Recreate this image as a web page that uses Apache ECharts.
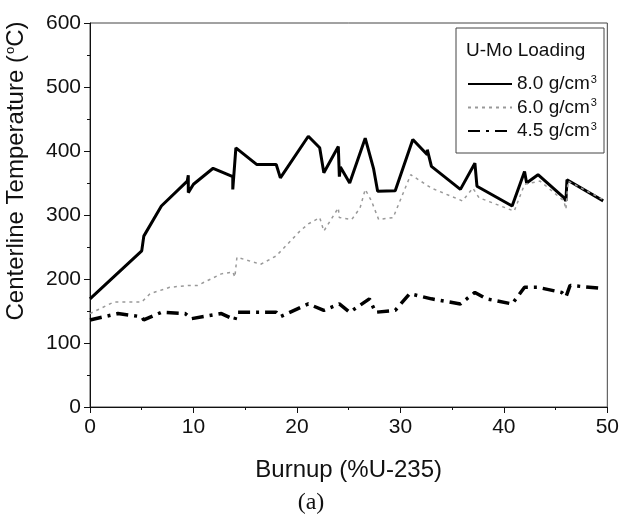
<!DOCTYPE html>
<html>
<head>
<meta charset="utf-8">
<script src="https://cdn.jsdelivr.net/npm/echarts@6/dist/echarts.min.js"></script>
<style>html,body{margin:0;padding:0;background:#fff}#c{width:622px;height:521px}</style>
</head>
<body>
<div id="c"></div>
<script>
var xTicks = [0, 10, 20, 30, 40, 50];
var yTicks = [0, 100, 200, 300, 400, 500, 600];
var legendTitle = 'U-Mo Loading';
var seriesNames = ['8.0 g/cm3', '6.0 g/cm3', '4.5 g/cm3'];

var s80x = [0, 5.0, 5.2, 6.9, 9.4, 9.5, 9.5, 10, 11.9, 13.8, 13.8, 14.1, 16.1, 18, 18.4, 21.1, 22.2, 22.6, 24, 24.1, 24.2, 25.1, 26.6, 27.4, 27.8, 29.5, 31.2, 32.6, 32.6, 33, 35.8, 37.2, 37.4, 40.8, 42, 42.2, 43.3, 45.8, 46, 46.1, 49.6];
var s80y = [169, 244, 267, 314, 353, 362, 335, 348, 373, 360, 340, 405, 379, 379, 358, 423, 405, 366, 407, 360, 375, 350, 420, 373, 337, 338, 418, 394, 402, 376, 340, 381, 345, 314, 368, 350, 363, 327, 322, 355, 322];

var s60x = [0, 2.3, 5.0, 5.8, 7.7, 9.6, 10.4, 12.7, 13.8, 14.0, 14.2, 16.5, 18, 20.3, 21.1, 22.2, 22.6, 24, 24.1, 25.3, 26.1, 26.6, 27.2, 27.9, 29.3, 31.0, 33, 36, 37, 37.6, 41, 42, 43.5, 45.8, 46, 46.2, 49.6];
var s60y = [146, 164, 164, 177, 187, 190, 190, 208, 211, 203, 234, 223, 236, 275, 286, 296, 275, 311, 296, 293, 311, 340, 322, 293, 296, 363, 342, 322, 342, 327, 306, 348, 353, 322, 309, 353, 324];

var s45x = [0, 2.7, 5.0, 5.2, 6.9, 9.2, 9.8, 12.7, 14.0, 14.2, 18, 18.4, 21.1, 22.6, 24.1, 25.1, 27.0, 27.6, 29.5, 30.9, 33, 35.8, 37.2, 38.3, 40.8, 42, 43.3, 45.6, 46, 46.4, 49.6];
var s45y = [136, 146, 141, 136, 148, 146, 138, 146, 136, 148, 148, 141, 161, 151, 161, 148, 169, 148, 151, 177, 169, 161, 179, 169, 161, 187, 187, 179, 172, 190, 185];

function pairs(xs, ys) { var out = []; for (var i = 0; i < xs.length; i++) out.push([xs[i], ys[i]]); return out; }

var chart = echarts.init(document.getElementById('c'));
var font = 'Liberation Sans, Arial, sans-serif';
var legendRich = { a: { fontSize: 19, fontFamily: font, color: '#111' }, s: { fontSize: 11, fontFamily: font, color: '#111', verticalAlign: 'top', padding: [0, 0, 9, 1] } };

chart.setOption({
  animation: false,
  backgroundColor: '#fff',
  grid: { left: 90, right: 14, top: 23, bottom: 114, show: true, borderColor: '#444', borderWidth: 1, backgroundColor: 'transparent' },
  xAxis: {
    type: 'value', min: xTicks[0], max: xTicks[xTicks.length - 1], interval: 10,
    name: 'Burnup (%U-235)', nameLocation: 'middle', nameGap: 51,
    nameTextStyle: { fontSize: 24, fontFamily: font, color: '#111' },
    axisLine: { lineStyle: { color: '#111', width: 1 } },
    axisTick: { inside: false, length: 6, lineStyle: { color: '#111' } },
    minorTick: { show: true, splitNumber: 2, length: 3, lineStyle: { color: '#111' } },
    axisLabel: { fontSize: 21, fontFamily: font, color: '#111', margin: 10 },
    splitLine: { show: false }
  },
  yAxis: {
    type: 'value', min: yTicks[0], max: yTicks[yTicks.length - 1], interval: 100,
    axisLine: { lineStyle: { color: '#111', width: 1 } },
    axisTick: { inside: false, length: 6, lineStyle: { color: '#111' } },
    minorTick: { show: true, splitNumber: 2, length: 3, lineStyle: { color: '#111' } },
    axisLabel: { fontSize: 21, fontFamily: font, color: '#111', margin: 9 },
    splitLine: { show: false }
  },
  legend: {
    orient: 'vertical', left: 462, top: 69, itemGap: 4, itemWidth: 44, itemHeight: 20,
    data: seriesNames,
    itemStyle: { opacity: 0, borderWidth: 0 },
    formatter: function (n) { return '{a|' + n.replace('cm3', 'cm') + '}{s|3}'; },
    textStyle: { rich: legendRich }
  },
  graphic: [
    { type: 'rect', shape: { x: 456, y: 28, width: 148, height: 125 }, style: { fill: 'none', stroke: '#444', lineWidth: 1 } },
    { type: 'text', left: 466, top: 41, style: { text: legendTitle, font: '19px ' + font, fill: '#111' } },
    { type: 'text', x: 16, y: 171, rotation: Math.PI / 2,
      style: { text: '{a|Centerline Temperature (}{s|o}{a|C)}', align: 'center', verticalAlign: 'middle',
        rich: { a: { fontSize: 24, fontFamily: font, fill: '#111', color: '#111' }, s: { fontSize: 13, fontFamily: font, fill: '#111', color: '#111', verticalAlign: 'top', padding: [0, 0, 12, 1] } } } },
    { type: 'text', left: 'center', top: 491, style: { text: '(a)', font: '24px "Liberation Serif", "Times New Roman", serif', fill: '#111' } }
  ],
  series: [
    { name: seriesNames[0], type: 'line', data: pairs(s80x, s80y), symbol: 'none', lineStyle: { color: '#000', width: 3 }, itemStyle: { color: '#000' } },
    { name: seriesNames[1], type: 'line', data: pairs(s60x, s60y), symbol: 'none', lineStyle: { color: '#999', width: 1.5, type: [3, 4] }, itemStyle: { color: '#999' } },
    { name: seriesNames[2], type: 'line', data: pairs(s45x, s45y), symbol: 'none', lineStyle: { color: '#000', width: 3.5, type: [12, 6, 3, 6] }, itemStyle: { color: '#000' } }
  ]
});
</script>
</body>
</html>
